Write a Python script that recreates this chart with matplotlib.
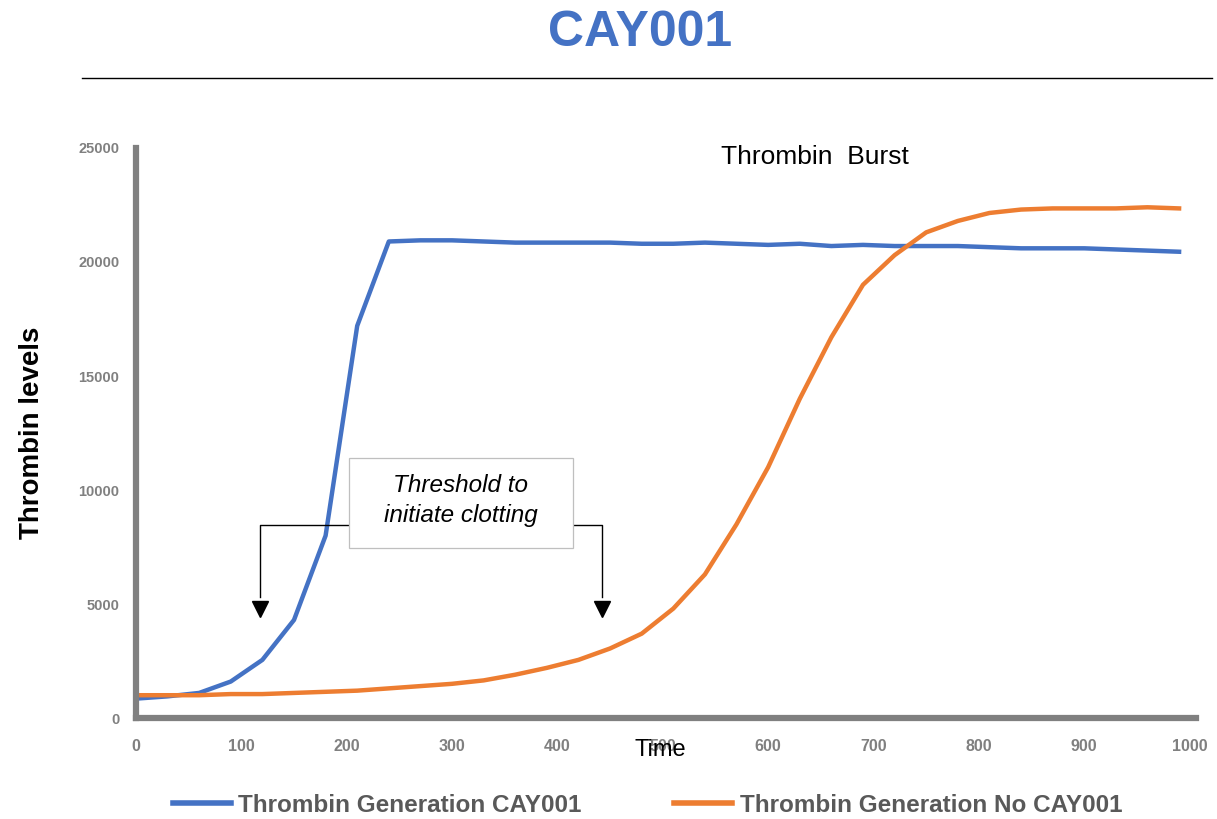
import matplotlib.pyplot as plt
from matplotlib.lines import Line2D
from matplotlib.patches import Rectangle

time = [0, 30, 60, 90, 120, 150, 180, 210, 240, 270, 300, 330, 360, 390, 420,
        450, 480, 510, 540, 570, 600, 630, 660, 690, 720, 750, 780, 810, 840,
        870, 900, 930, 960, 990]
with_cay = [850, 950, 1100, 1600, 2550, 4300, 8000, 17200, 20900, 20950, 20950,
            20900, 20850, 20850, 20850, 20850, 20800, 20800, 20850, 20800, 20750,
            20800, 20700, 20750, 20700, 20700, 20700, 20650, 20600, 20600, 20600,
            20550, 20500, 20450]
no_cay = [1000, 1000, 1000, 1050, 1050, 1100, 1150, 1200, 1300, 1400, 1500,
          1650, 1900, 2200, 2550, 3050, 3700, 4800, 6300, 8500, 11000, 14000,
          16700, 19000, 20300, 21300, 21800, 22150, 22300, 22350, 22350, 22350,
          22400, 22350]
labels = ["Thrombin Generation CAY001", "Thrombin Generation No CAY001"]

blue = "#4472C4"
orange = "#ED7D31"
gray = "#808080"
sans = ["Liberation Sans", "DejaVu Sans"]

fig = plt.figure(figsize=(12.17, 8.19), dpi=100)
ax = fig.add_axes([0.1117, 0.1233, 0.8710, 0.6960])

ax.plot(time, with_cay, color=blue, lw=3.2, label=labels[0])
ax.plot(time, no_cay, color=orange, lw=3.2, label=labels[1])

ax.set_xlim(0, 1006)
ax.set_ylim(0, 25000)
ax.set_xticks(range(0, 1001, 100))
ax.set_yticks(range(0, 25001, 5000))
for s in ["top", "right"]:
    ax.spines[s].set_visible(False)
for s in ["left", "bottom"]:
    ax.spines[s].set_color(gray)
    ax.spines[s].set_linewidth(4.5)
ax.tick_params(length=0, colors=gray)
ax.tick_params(axis="y", pad=12)
ax.tick_params(axis="x", pad=15)
for t in ax.get_yticklabels():
    t.set_fontweight("bold")
    t.set_fontsize(10.5)
    t.set_family(sans)
for t in ax.get_xticklabels():
    t.set_fontweight("bold")
    t.set_fontsize(11.5)
    t.set_family(sans)

ax.set_ylabel("Thrombin levels", fontsize=20, fontweight="bold",
              family=sans, labelpad=24)
fig.text(0.5425, 0.084, "Time", fontsize=17, ha="center", va="center",
         family=sans)

ax.text(644, 24600, "Thrombin  Burst", fontsize=19, ha="center", va="center",
        family=sans)

# threshold annotation
ax.add_patch(Rectangle((202, 7456), 213, 3948, facecolor="white",
                       edgecolor="#BFBFBF", lw=0.9, zorder=3))
ax.text(308, 9530, "Threshold to\ninitiate clotting", fontsize=17.5,
        style="italic", ha="center", va="center", linespacing=1.4,
        family=sans, zorder=4)
ax.plot([202, 117.6, 117.6], [8465, 8465, 5300], color="black", lw=1, zorder=2)
ax.plot([415, 442, 442], [8465, 8465, 5300], color="black", lw=1, zorder=2)
ax.plot([117.6, 442], [4800, 4800], ls="none", marker="v", ms=11,
        color="black", zorder=2)

fig.text(0.526, 0.96, "CAY001", fontsize=36, fontweight="bold", color=blue,
         ha="center", va="center", family=sans)
fig.add_artist(Line2D([0.067, 0.996], [0.905, 0.905], color="black", lw=1))

leg = fig.legend(loc="center", bbox_to_anchor=(0.532, 0.017), ncol=2,
                 frameon=False, handlelength=2.4, handletextpad=0.3,
                 columnspacing=3.8,
                 prop={"family": sans, "weight": "bold", "size": 17.5})
for t in leg.get_texts():
    t.set_color("#595959")
for h in leg.get_lines():
    h.set_linewidth(4)

fig.savefig("out.png", dpi=100)
